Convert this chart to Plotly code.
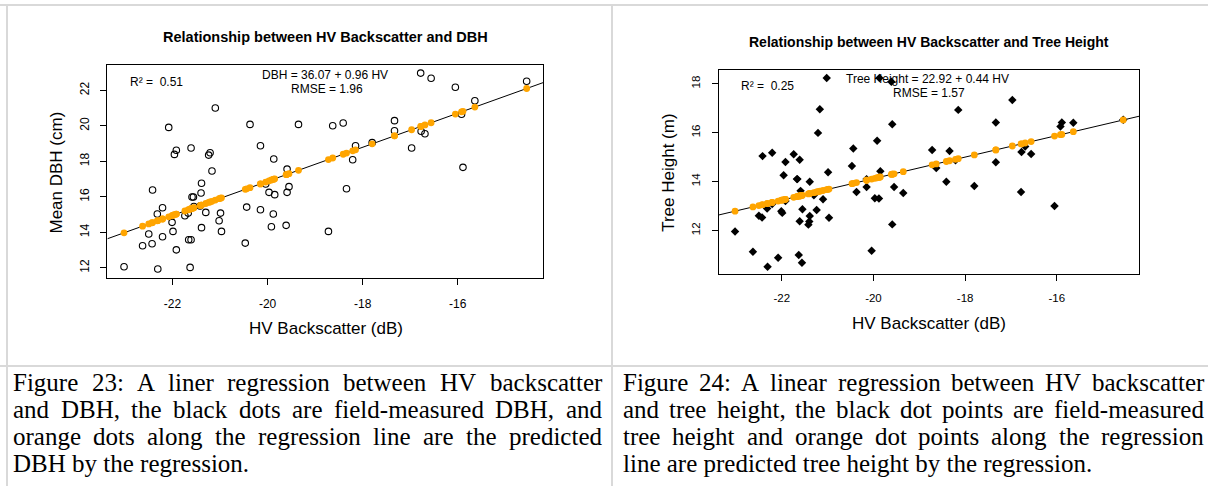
import plotly.graph_objects as go

# ---------------- data ----------------
hv = [-23.02, -22.63, -22.50, -22.43, -22.42, -22.32, -22.31, -22.21, -22.21, -22.08,
      -22.01, -21.99, -21.96, -21.92, -21.92, -21.74, -21.67, -21.66, -21.63, -21.61,
      -21.61, -21.59, -21.56, -21.55, -21.42, -21.40, -21.39, -21.39, -21.30, -21.24,
      -21.21, -21.17, -21.10, -21.02, -20.99, -20.97,
      -20.47, -20.44, -20.37, -20.15, -20.15, -20.04, -19.97, -19.92, -19.88, -19.87,
      -19.85, -19.61, -19.59, -19.59, -19.55, -19.35, -18.72, -18.63, -18.41, -18.34,
      -18.21, -18.15,
      -17.80, -17.33, -17.33, -16.97, -16.78, -16.77, -16.69, -16.56, -16.05, -15.92,
      -15.89, -15.64, -14.55]

dbh = [12.06, 13.24, 13.90, 13.35, 16.38, 15.03, 11.93, 15.38, 13.75, 19.91,
       14.56, 14.05, 18.39, 18.62, 13.01, 14.93, 15.08, 13.58, 12.02, 18.75,
       13.58, 15.99, 15.99, 15.45, 15.48, 16.21, 16.76, 14.26, 15.12, 18.35,
       18.48, 17.45, 21.00, 14.65, 15.08, 14.05,
       13.39, 15.42, 20.08, 18.88, 15.27, 16.72, 16.25, 14.31, 15.03, 18.13,
       16.12, 14.39, 17.56, 16.25, 16.57, 20.08, 14.05, 20.00, 20.16, 16.45,
       18.09, 18.88,
       19.05, 20.29, 19.72, 18.75, 22.97, 19.69, 19.55, 22.68, 22.17, 20.65,
       17.66, 21.41, 22.51]

height = [11.96, 11.13, 12.60, 12.53, 15.04, 12.90, 10.52, 13.08, 15.18, 10.89,
          12.79, 12.72, 14.26, 14.80, 13.21, 15.12, 14.10, 14.10, 11.00, 12.38,
          14.89, 13.62, 10.68, 12.87, 12.24, 12.37, 13.99, 12.59, 13.44, 12.84,
          15.99, 16.96, 13.28, 18.23, 14.38, 12.52,
          14.64, 15.35, 13.57, 13.78, 14.10, 11.17, 13.32, 15.67, 13.31, 18.23,
          14.42, 18.08, 16.34, 12.25, 13.78, 13.53, 15.29, 14.55, 13.99, 15.25,
          14.87, 16.93,
          13.82, 16.41, 14.79, 17.33, 13.57, 15.21, 15.43, 15.13, 13.00, 16.25,
          16.41, 16.40, 16.53]

dbh_coef = [36.07, 0.96]      # intercept, slope
ht_coef = [22.92, 0.44]

x_ticks = [-22, -20, -18, -16]
x_tick_labels = ["-22", "-20", "-18", "-16"]
dbh_ticks = [12, 14, 16, 18, 20, 22]
ht_ticks = [12, 14, 16, 18]

titles = ["Relationship between HV Backscatter and DBH",
          "Relationship between HV Backscatter and Tree Height"]
x_title = "HV Backscatter (dB)"
y_titles = ["Mean DBH (cm)", "Tree Height (m)"]
r2_texts = ["R\u00b2 =  0.51", "R\u00b2 =  0.25"]
eq_texts = ["DBH = 36.07 + 0.96 HV", "Tree Height = 22.92 + 0.44 HV"]
rmse_texts = ["RMSE = 1.96", "RMSE = 1.57"]

caption_left = ["Figure 23: A liner regression between HV backscatter",
                "and DBH, the black dots are field-measured DBH, and",
                "orange dots along the regression line are the predicted",
                "DBH by the regression."]
caption_right = ["Figure 24: A linear regression between HV backscatter",
                 "and tree height, the black dot points are field-measured",
                 "tree height and orange dot points along the regression",
                 "line are predicted tree height by the regression."]

# ---------------- helpers ----------------
W, H = 1208, 486
def px(x):
    return x / W
def py(y):
    return 1 - y / H

X_RANGE = [-23.37, -14.20]
DBH_RANGE = [11.44, 23.41]
HT_RANGE = [10.21, 18.56]

pred_dbh = [dbh_coef[0] + dbh_coef[1] * v for v in hv]
pred_ht = [ht_coef[0] + ht_coef[1] * v for v in hv]
line_x = X_RANGE
line_dbh = [dbh_coef[0] + dbh_coef[1] * v for v in line_x]
line_ht = [ht_coef[0] + ht_coef[1] * v for v in line_x]

ORANGE = "#FFA500"
SANS = "Liberation Sans, Arial, sans-serif"
SERIF = "Liberation Serif, Times New Roman, serif"

fig = go.Figure()
# left panel
fig.add_trace(go.Scatter(x=hv, y=dbh, mode="markers", xaxis="x", yaxis="y",
                         marker=dict(symbol="circle-open", size=6.5, color="black",
                                     line=dict(width=1.1, color="black")),
                         showlegend=False, cliponaxis=False))
fig.add_trace(go.Scatter(x=line_x, y=line_dbh, mode="lines", xaxis="x", yaxis="y",
                         line=dict(color="black", width=1), showlegend=False))
fig.add_trace(go.Scatter(x=hv, y=pred_dbh, mode="markers", xaxis="x", yaxis="y",
                         marker=dict(symbol="circle", size=6.8, color=ORANGE),
                         showlegend=False))
# right panel
fig.add_trace(go.Scatter(x=hv, y=height, mode="markers", xaxis="x2", yaxis="y2",
                         marker=dict(symbol="diamond", size=6.5, color="black"),
                         showlegend=False, cliponaxis=False))
fig.add_trace(go.Scatter(x=line_x, y=line_ht, mode="lines", xaxis="x2", yaxis="y2",
                         line=dict(color="black", width=1), showlegend=False))
fig.add_trace(go.Scatter(x=hv, y=pred_ht, mode="markers", xaxis="x2", yaxis="y2",
                         marker=dict(symbol="circle", size=6.8, color=ORANGE),
                         showlegend=False))

axis_common = dict(showline=True, linecolor="black", linewidth=1, mirror=True,
                   ticks="outside", ticklen=6, tickcolor="black", tickwidth=1,
                   showgrid=False, zeroline=False,
                   tickfont=dict(family=SANS, size=12, color="black"))

fig.update_layout(
    width=W, height=H, margin=dict(l=0, r=0, t=0, b=0),
    paper_bgcolor="white", plot_bgcolor="white",
    xaxis=dict(domain=[px(107.4), px(543.3)], range=X_RANGE, tickvals=x_ticks,
               ticktext=x_tick_labels, anchor="y", ticklabelstandoff=9, **axis_common),
    yaxis=dict(domain=[py(277.7), py(65.3)], range=DBH_RANGE, tickvals=dbh_ticks,
               tickangle=-90, anchor="x", ticklabelstandoff=7, **axis_common),
    xaxis2=dict(domain=[px(719.0), px(1139.3)], range=X_RANGE, tickvals=x_ticks,
                ticktext=x_tick_labels, anchor="y2", ticklabelstandoff=7, **axis_common),
    yaxis2=dict(domain=[py(274.3), py(70.0)], range=HT_RANGE, tickvals=ht_ticks,
                tickangle=-90, anchor="x2", ticklabelstandoff=7, **axis_common),
)
fig.update_layout(xaxis2_tickfont_size=11.5, yaxis2_tickfont_size=11.5)

ann = []
def text(x, y, s, size, family=SANS, xanchor="center", weight="normal", angle=0):
    ann.append(dict(x=px(x), y=py(y), xref="paper", yref="paper", text=s,
                    showarrow=False, xanchor=xanchor, yanchor="middle",
                    textangle=angle, borderpad=0,
                    font=dict(family=family, size=size, color="black", weight=weight)))

# titles
text(325.8, 36.7, titles[0], 14.5, weight="bold")
text(929, 42.3, titles[1], 14, weight="bold")
# axis titles
text(325.5, 328, x_title, 17)
text(928.5, 323, x_title, 17)
text(56, 172.5, y_titles[0], 17, angle=-90)
text(668.5, 173.3, y_titles[1], 17, angle=-90)
# in-plot annotations
text(129.3, 82.3, r2_texts[0], 12, xanchor="left")
text(324.5, 75, eq_texts[0], 12)
text(326.5, 89.3, rmse_texts[0], 12)
text(740, 85.7, r2_texts[1], 12, xanchor="left")
text(927.5, 79, eq_texts[1], 12)
text(928.8, 92.7, rmse_texts[1], 12)

# justified captions
TIMES = {' ': 250, ',': 250, '-': 333, '.': 250, ':': 278,
         'A': 722, 'B': 667, 'D': 722, 'F': 556, 'H': 722, 'V': 722,
         'a': 444, 'b': 500, 'c': 444, 'd': 500, 'e': 444, 'f': 333, 'g': 500,
         'h': 500, 'i': 278, 'j': 278, 'k': 500, 'l': 278, 'm': 778, 'n': 500,
         'o': 500, 'p': 500, 'q': 500, 'r': 333, 's': 389, 't': 278, 'u': 500,
         'v': 500, 'w': 722, 'x': 500, 'y': 500, 'z': 444}
CAP_FS = 25
def wwidth(s):
    return sum(TIMES.get(c, 500) for c in s) * CAP_FS / 1000.0

def caption(lines, x0, x1, y0, dy):
    for i, line in enumerate(lines):
        y = y0 + i * dy
        words = line.split(" ")
        last = i == len(lines) - 1
        if last or len(words) == 1:
            text(x0, y, line, CAP_FS, family=SERIF, xanchor="left")
            continue
        widths = [wwidth(w) for w in words]
        gap = (x1 - x0 - sum(widths)) / (len(words) - 1)
        x = x0
        for w, wd in zip(words, widths):
            text(x, y, w, CAP_FS, family=SERIF, xanchor="left")
            x += wd + gap

caption(caption_left, 12, 601, 382, 27)
caption(caption_right, 622, 1203, 382, 27)

fig.update_layout(annotations=ann)

# document table borders
GRID = "#d9d9d9"
shapes = [
    dict(type="line", xref="paper", yref="paper", x0=0, x1=1, y0=py(5), y1=py(5)),
    dict(type="line", xref="paper", yref="paper", x0=0, x1=1, y0=py(366), y1=py(366)),
    dict(type="line", xref="paper", yref="paper", x0=px(7), x1=px(7), y0=py(5), y1=0),
    dict(type="line", xref="paper", yref="paper", x0=px(612), x1=px(612), y0=py(5), y1=0),
]
for s in shapes:
    s["line"] = dict(color=GRID, width=2)
    s["layer"] = "below"
fig.update_layout(shapes=shapes)

fig.write_html("out.html")
